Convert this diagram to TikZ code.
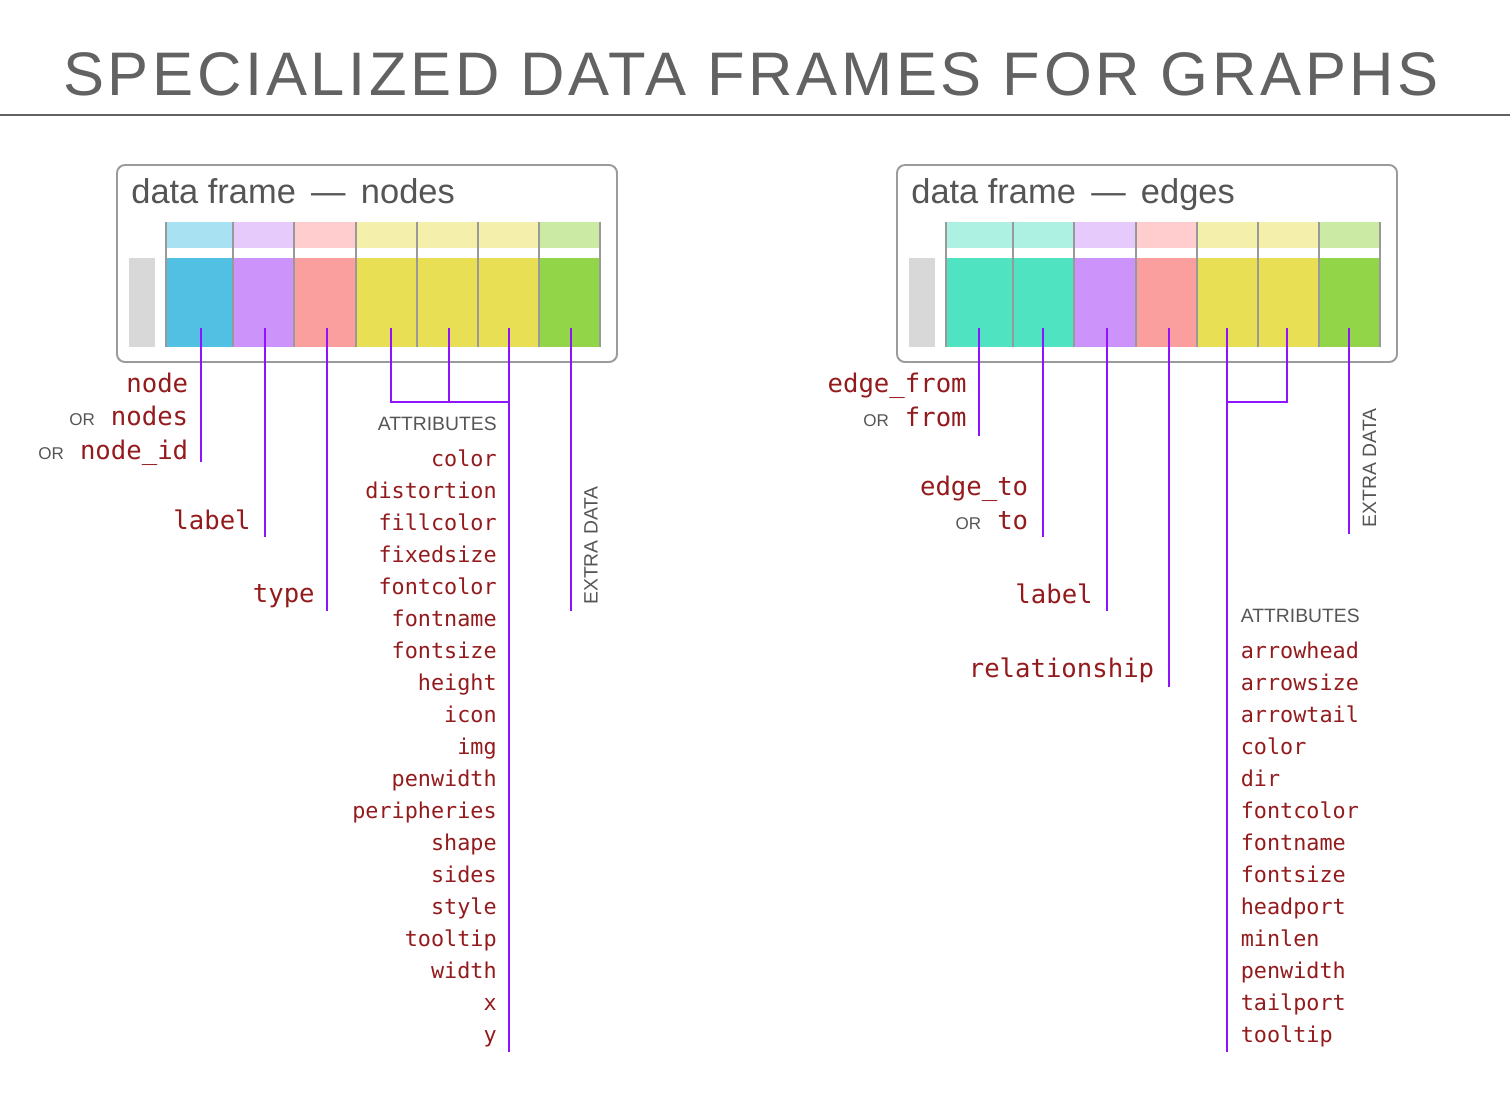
\documentclass[tikz,border=0pt]{standalone}
\usepackage{fontspec}
\setmainfont{Liberation Sans}
\newfontfamily\codefont{DejaVu Sans Mono}
\newfontfamily\bigheadfont[LetterSpace=6]{Liberation Sans}
\usetikzlibrary{positioning}

\definecolor{purp}{HTML}{9013FE}
\definecolor{dred}{HTML}{931B1D}
\definecolor{txtgray}{HTML}{555555}
\definecolor{headgray}{HTML}{626262}
\definecolor{framegray}{HTML}{9B9B9B}
\definecolor{sepgray}{HTML}{999999}
\definecolor{idgray}{HTML}{D8D8D8}
\definecolor{bluehi}{HTML}{A8E1F1}\definecolor{bluelo}{HTML}{51C0E2}
\definecolor{lavhi}{HTML}{E5CAFB}\definecolor{lavlo}{HTML}{CC94FA}
\definecolor{pinkhi}{HTML}{FFCDCD}\definecolor{pinklo}{HTML}{FB9E9E}
\definecolor{yelhi}{HTML}{F4EFAA}\definecolor{yello}{HTML}{E8DF55}
\definecolor{grnhi}{HTML}{CBEAA3}\definecolor{grnlo}{HTML}{92D548}
\definecolor{teahi}{HTML}{ACF1E2}\definecolor{tealo}{HTML}{50E3C2}

\newcommand\orword{{\normalfont\fontsize{9.7}{11}\selectfont\color{txtgray}OR}\hspace{0.32cm}}

\begin{document}
\begin{tikzpicture}[x=0.02cm,y=-0.02cm,
   lead/.style={draw=purp,line width=1.3pt},
   frame/.style={draw=framegray,line width=1.1pt,rounded corners=4.5pt},
   sep/.style={draw=sepgray,line width=1pt},
   ptitle/.style={font=\fontsize{19.6}{22}\selectfont,text=txtgray,inner sep=0pt},
   lbl/.style={font=\codefont\fontsize{14.6}{16}\selectfont,text=dred,inner sep=0pt},
   att/.style={font=\codefont\fontsize{12.4}{14}\selectfont,text=dred,inner sep=0pt},
   capt/.style={font=\fontsize{11}{13}\selectfont,text=txtgray,inner sep=0pt}]
  \useasboundingbox (0,0) rectangle (1510,1092);

  % heading
  \node[font=\bigheadfont\fontsize{35}{40}\selectfont,text=headgray,anchor=base,inner sep=0pt]
    (title) at (751,95.7) {SPECIALIZED DATA FRAMES FOR GRAPHS};
  \draw[headgray,line width=1.1pt] (0,115) -- (1510,115);

  % data frame: nodes
  \draw[frame] (117,165) rectangle (617,362);
  \node[ptitle,anchor=base west] (ntitle) at (131,203) {data frame \,—\, nodes};
  \fill[idgray] (129,258) rectangle (155,347);
  \foreach \xa/\xb/\hi/\lo in {166/233/bluehi/bluelo,233/294/lavhi/lavlo,294/356/pinkhi/pinklo,
      356/417/yelhi/yello,417/478/yelhi/yello,478/539/yelhi/yello,539/600/grnhi/grnlo}{
    \fill[fill=\hi] (\xa,222) rectangle (\xb,248);
    \fill[fill=\lo] (\xa,258) rectangle (\xb,347);
    \draw[sep] (\xa,222) -- (\xa,347);
  }
  \draw[sep] (600,222) -- (600,347);
  \foreach \x [count=\i] in {201,265,327,391,449,509,571}
    \coordinate (nt\i) at (\x,328);
  \coordinate (nb1) at (201,462);
  \coordinate (nb2) at (265,537);
  \coordinate (nb3) at (327,611);
  \coordinate (nj) at (509,402);
  \coordinate (nb6) at (509,1052);
  \coordinate (nb7) at (571,611);

  \node[lbl,anchor=base east] (nnode) at (188.5,392) {node};
  \node[lbl,anchor=base east] (nnodes) at (188.5,425.5) {\orword nodes};
  \node[lbl,anchor=base east] (nid) at (188.5,459) {\orword node\_id};
  \node[lbl,anchor=base east] (nlabel) at (251,529) {label};
  \node[lbl,anchor=base east] (ntype) at (315,602) {type};
  \node[capt,anchor=base east] (nattr) at (497,430) {ATTRIBUTES};
  \foreach \a [count=\i from 0] in {color,distortion,fillcolor,fixedsize,fontcolor,fontname,
      fontsize,height,icon,img,penwidth,peripheries,shape,sides,style,tooltip,width,x,y}
    \node[att,anchor=base east] (na\i) at (497,{466+32*\i}) {\a};
  \node[capt,rotate=90,anchor=base west] (nextra) at (597.5,605) {EXTRA DATA};

  \draw[lead] (nt1) -- (nb1);
  \draw[lead] (nt2) -- (nb2);
  \draw[lead] (nt3) -- (nb3);
  \draw[lead] (nt4) |- (nj);
  \draw[lead] (nt5) -- (nt5 |- nj);
  \draw[lead] (nt6) -- (nb6);
  \draw[lead] (nt7) -- (nb7);

  % data frame: edges
  \draw[frame] (897,165) rectangle (1397,362);
  \node[ptitle,anchor=base west] (etitle) at (911,203) {data frame \,—\, edges};
  \fill[idgray] (909,258) rectangle (935,347);
  \foreach \xa/\xb/\hi/\lo in {946/1013/teahi/tealo,1013/1074/teahi/tealo,1074/1136/lavhi/lavlo,
      1136/1197/pinkhi/pinklo,1197/1258/yelhi/yello,1258/1319/yelhi/yello,1319/1380/grnhi/grnlo}{
    \fill[fill=\hi] (\xa,222) rectangle (\xb,248);
    \fill[fill=\lo] (\xa,258) rectangle (\xb,347);
    \draw[sep] (\xa,222) -- (\xa,347);
  }
  \draw[sep] (1380,222) -- (1380,347);
  \foreach \x [count=\i] in {979,1043,1107,1169,1227,1287,1349}
    \coordinate (et\i) at (\x,328);
  \coordinate (eb1) at (979,436);
  \coordinate (eb2) at (1043,537);
  \coordinate (eb3) at (1107,611);
  \coordinate (eb4) at (1169,687);
  \coordinate (ej) at (1227,402);
  \coordinate (eb5) at (1227,1052);
  \coordinate (eb7) at (1349,534);

  \node[lbl,anchor=base east] (efrom) at (967,392) {edge\_from};
  \node[lbl,anchor=base east] (efrom2) at (967,426) {\orword from};
  \node[lbl,anchor=base east] (eto) at (1028.5,495) {edge\_to};
  \node[lbl,anchor=base east] (eto2) at (1028.5,529) {\orword to};
  \node[lbl,anchor=base east] (elabel) at (1093,603) {label};
  \node[lbl,anchor=base east] (erel) at (1154.5,677) {relationship};
  \node[capt,anchor=base west] (eattr) at (1240.5,622) {ATTRIBUTES};
  \foreach \a [count=\i from 0] in {arrowhead,arrowsize,arrowtail,color,dir,fontcolor,fontname,
      fontsize,headport,minlen,penwidth,tailport,tooltip}
    \node[att,anchor=base west] (ea\i) at (1240.5,{658+32*\i}) {\a};
  \node[capt,rotate=90,anchor=base west] (eextra) at (1376,527.5) {EXTRA DATA};

  \draw[lead] (et1) -- (eb1);
  \draw[lead] (et2) -- (eb2);
  \draw[lead] (et3) -- (eb3);
  \draw[lead] (et4) -- (eb4);
  \draw[lead] (et5) -- (eb5);
  \draw[lead] (et6) |- (ej);
  \draw[lead] (et7) -- (eb7);
\end{tikzpicture}
\end{document}
